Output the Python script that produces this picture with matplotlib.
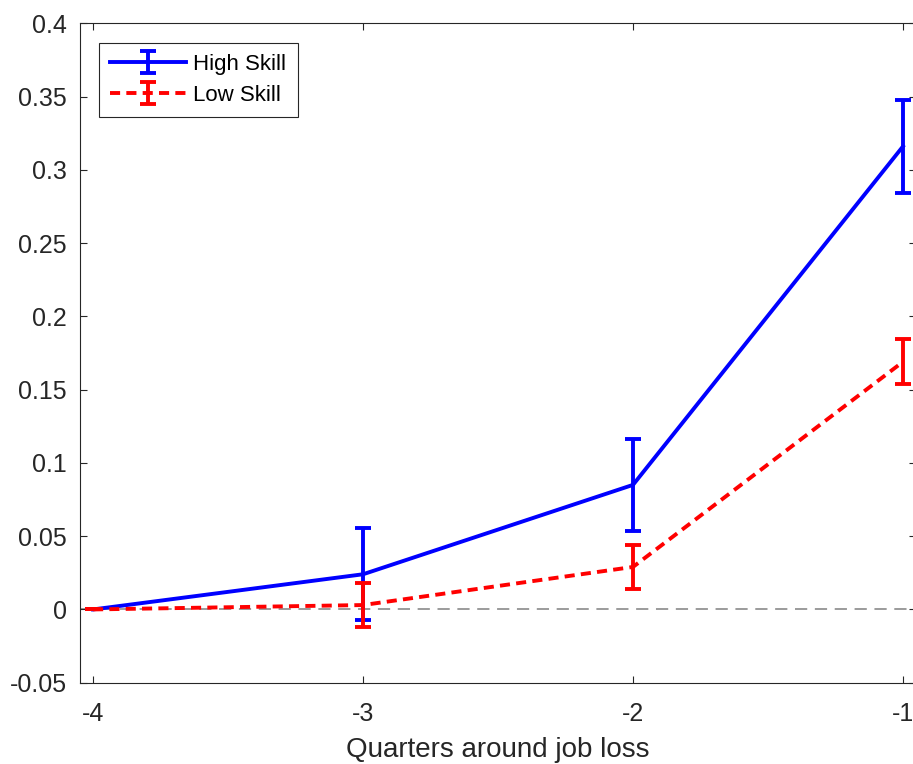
import numpy as np
import matplotlib
matplotlib.use('Agg')
import matplotlib.pyplot as plt

plt.rcParams['font.family'] = ['Liberation Sans', 'DejaVu Sans']

# data
quarters = [-4, -3, -2, -1]
high_mean = [0.0, 0.024, 0.085, 0.316]
high_err = [0.0, 0.0315, 0.0315, 0.032]
low_mean = [0.0, 0.003, 0.029, 0.169]
low_err = [0.0, 0.015, 0.015, 0.0153]
xticks = [-4, -3, -2, -1]
yticks = [-0.05, 0, 0.05, 0.1, 0.15, 0.2, 0.25, 0.3, 0.35, 0.4]
ytick_labels = ['-0.05', '0', '0.05', '0.1', '0.15', '0.2', '0.25', '0.3', '0.35', '0.4']

dark = '#262626'

fig = plt.figure(figsize=(9.13, 7.64), dpi=100)
ax = fig.add_axes([0.0871, 0.1064, 0.9167, 0.8631])

# zero reference line
ax.axhline(0, color='#808080', lw=1.1, ls=(0, (8, 5)), zorder=1)

ax.errorbar(quarters, high_mean, yerr=high_err, color='#0000ff', lw=2.8,
            elinewidth=2.8, capsize=5.5, capthick=2.8, label='High Skill', zorder=3)
ax.errorbar(quarters, low_mean, yerr=low_err, color='#ff0000', lw=2.8,
            ls=(0, (2.6, 1.6)), elinewidth=2.8, capsize=5.5, capthick=2.8,
            label='Low Skill', zorder=4)

ax.set_xlim(-4.05, -0.95)
ax.set_ylim(-0.05, 0.4)
ax.set_xticks(xticks)
ax.set_xticklabels([str(t) for t in xticks])
ax.set_yticks(yticks)
ax.set_yticklabels(ytick_labels)

ax.tick_params(direction='in', length=5, width=0.8, colors=dark, labelsize=18,
               top=True, right=True, pad=9)
ax.tick_params(axis='x', pad=14)
for s in ax.spines.values():
    s.set_color(dark)
    s.set_linewidth(0.8)

ax.set_xlabel('Quarters around job loss', fontsize=20, color=dark, labelpad=8)

leg = ax.legend(loc='upper left', fontsize=16, fancybox=False, framealpha=1,
                edgecolor=dark, borderpad=0.5, handlelength=3.4, handletextpad=0.35,
                labelspacing=0.45, bbox_to_anchor=(19.5 / 837, 1 - 19.7 / 659.4),
                borderaxespad=0)
leg.get_frame().set_linewidth(0.8)

fig.savefig('out.png', dpi=100)
